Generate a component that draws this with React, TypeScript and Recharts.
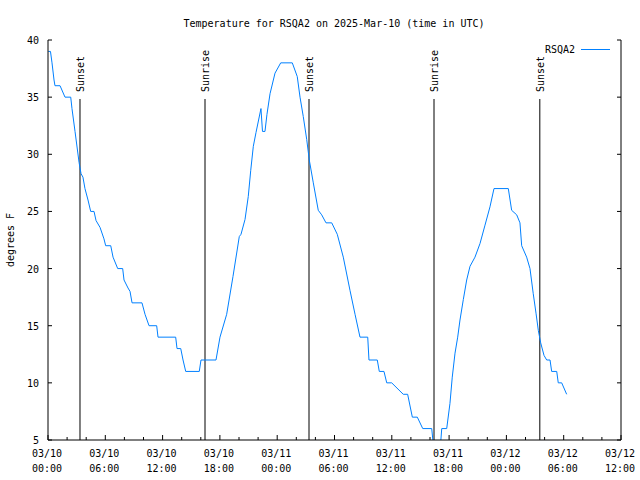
import React from 'react';
import { LineChart, Line, XAxis, YAxis, ReferenceLine } from 'recharts';

// time in hours since 03/10 00:00 UTC
const hours = [
  0.03, 0.26, 0.42, 0.63, 0.73, 1.26, 1.78, 2.38, 2.51, 2.83, 3.25, 3.46, 3.66, 3.87, 4.19, 4.47,
  4.82, 5.03, 5.45, 5.86, 6.04, 6.57, 6.81, 7.3, 7.82, 7.96, 8.38, 8.59, 8.8, 9.84, 10.16, 10.58,
  11.38, 11.52, 13.37, 13.51, 13.9, 14.14, 14.42, 15.84, 16.02, 17.59, 18.01, 18.71, 19.37, 20.03,
  20.21, 20.63, 20.97, 21.23, 21.5, 21.78, 22.3, 22.46, 22.72, 22.93, 23.25, 23.77, 24.37, 25.58,
  26.1, 26.39, 26.73, 27.09, 27.36, 27.78, 28.3, 28.66, 29.11, 29.71, 30.29, 30.92, 31.62, 32.15,
  32.67, 33.48, 33.61, 34.48, 34.69, 35.18, 35.47, 35.99, 37.2, 37.66, 38.15, 38.67, 39.24, 40.18,
  40.42, 41.05, 41.23, 41.75, 42.09, 42.33, 42.62, 42.9, 43.14, 43.49, 43.84, 44.19, 44.71, 45.24,
  45.76, 46.28, 46.7, 48.2, 48.55, 49.08, 49.42, 49.6, 50.12, 50.47, 50.81, 51.1, 51.34, 51.59,
  51.94, 52.22, 52.57, 52.74, 53.27, 53.43, 53.79, 54.31,
];

const tempF = [
  39, 39, 38, 36.5, 36, 36, 35, 35, 34, 32, 29.3, 28.3, 28, 27, 26, 25,
  25, 24.2, 23.6, 22.6, 22, 22, 21, 20, 20, 19, 18.3, 18, 17, 17, 16, 15,
  15, 14, 14, 13, 13, 12, 11, 11, 12, 12, 14, 16, 19.3, 22.8,
  23, 24.3, 26.3, 28.6, 30.7, 31.9, 34, 32, 32, 33.5, 35.3, 37.1, 38, 38,
  36.8, 35, 33.3, 31.3, 29.5, 27.5, 25.1, 24.7, 24, 24, 23, 21, 18.1, 16,
  14, 14, 12, 12, 11, 11, 10, 10, 9, 9, 7, 7, 6, 6,
  4, 4, 6, 6, 8.2, 10.5, 12.6, 14, 15.5, 17.3, 19, 20.2, 21, 22.2,
  23.8, 25.4, 27, 27, 25.1, 24.7, 24, 22, 21, 20, 17.8, 16.1, 14.6, 13.5,
  12.4, 12, 12, 11, 11, 10, 10, 9,
];

const sunTimes = [3.35, 16.44, 27.33, 40.42, 51.5];
const sunLabels = ['Sunset', 'Sunrise', 'Sunset', 'Sunrise', 'Sunset'];

const xTicks = [0, 2, 4, 6, 8, 10, 12, 14, 16, 18, 20, 22, 24, 26, 28, 30, 32, 34, 36, 38, 40, 42, 44, 46, 48, 50, 52, 54, 56, 58, 60];
const xMajorDates = ['03/10', '03/10', '03/10', '03/10', '03/11', '03/11', '03/11', '03/11', '03/12', '03/12', '03/12'];
const xMajorTimes = ['00:00', '06:00', '12:00', '18:00', '00:00', '06:00', '12:00', '18:00', '00:00', '06:00', '12:00'];
const yTicks = [5, 10, 15, 20, 25, 30, 35, 40];

const seriesName = 'RSQA2';
const titleText = 'Temperature for RSQA2 on 2025-Mar-10 (time in UTC)';
const yLabel = 'degrees F';

const data = hours.map((h, i) => ({ h, t: tempF[i] }));

const FONT = '"DejaVu Sans Mono", "Liberation Mono", monospace';
const LINE_COLOR = '#0080ff';

const BottomTick = (props: any) => {
  const { x, y, payload } = props;
  const v = payload.value as number;
  const major = v % 6 === 0;
  const idx = v / 6;
  return (
    <g>
      <line x1={x} x2={x} y1={y} y2={y - (major ? 5 : 3)} stroke="#000" />
      {major && (
        <text x={x - 1} y={y + 17} textAnchor="middle" fontFamily={FONT} fontSize={10} fill="#000">
          {xMajorDates[idx]}
        </text>
      )}
      {major && (
        <text x={x - 1} y={y + 32} textAnchor="middle" fontFamily={FONT} fontSize={10} fill="#000">
          {xMajorTimes[idx]}
        </text>
      )}
    </g>
  );
};

const TopTick = (props: any) => {
  const { x, y, payload } = props;
  const v = payload.value as number;
  const major = v % 6 === 0;
  return <line x1={x} x2={x} y1={y} y2={y + (major ? 5 : 3)} stroke="#000" />;
};

const LeftTick = (props: any) => {
  const { x, y, payload } = props;
  return (
    <g>
      <line x1={x} x2={x + 4} y1={y} y2={y} stroke="#000" />
      <text x={x - 9} y={y} dy={4} textAnchor="end" fontFamily={FONT} fontSize={10} fill="#000">
        {payload.value}
      </text>
    </g>
  );
};

const RightTick = (props: any) => {
  const { x, y } = props;
  return <line x1={x} x2={x - 4} y1={y} y2={y} stroke="#000" />;
};

const makeSunShape = (label: string) => (p: any) => {
  const x = p.x1;
  const top = Math.min(p.y1, p.y2);
  const bottom = Math.max(p.y1, p.y2);
  const tx = x + 4;
  const ty = top + 52;
  return (
    <g>
      <line x1={x} x2={x} y1={top + 59} y2={bottom} stroke="#000" strokeWidth={1} />
      <text
        x={tx}
        y={ty}
        transform={`rotate(-90 ${tx} ${ty})`}
        textAnchor="start"
        fontFamily={FONT}
        fontSize={10}
        fill="#000"
      >
        {label}
      </text>
    </g>
  );
};

export default function App() {
  return (
    <div style={{ position: 'absolute', left: 0, top: 0, width: 640, height: 480, background: '#fff' }}>
      <LineChart width={640} height={480} data={data} margin={{ top: 40, right: 0, bottom: 0, left: 0 }}>
        <XAxis
          dataKey="h"
          type="number"
          domain={[0, 60]}
          allowDataOverflow
          ticks={xTicks}
          interval={0}
          height={40}
          tickSize={0}
          tickMargin={0}
          axisLine={{ stroke: '#000' }}
          tickLine={false}
          tick={(p: any) => <BottomTick {...p} />}
        />
        <XAxis
          xAxisId="top"
          orientation="top"
          dataKey="h"
          type="number"
          domain={[0, 60]}
          allowDataOverflow
          ticks={xTicks}
          interval={0}
          height={0}
          tickSize={0}
          tickMargin={0}
          axisLine={{ stroke: '#000' }}
          tickLine={false}
          tick={(p: any) => <TopTick {...p} />}
        />
        <YAxis
          type="number"
          domain={[5, 40]}
          allowDataOverflow
          ticks={yTicks}
          interval={0}
          width={48}
          tickSize={0}
          tickMargin={0}
          axisLine={{ stroke: '#000' }}
          tickLine={false}
          tick={(p: any) => <LeftTick {...p} />}
        />
        <YAxis
          yAxisId="right"
          orientation="right"
          type="number"
          domain={[5, 40]}
          allowDataOverflow
          ticks={yTicks}
          interval={0}
          width={19}
          tickSize={0}
          tickMargin={0}
          axisLine={{ stroke: '#000' }}
          tickLine={false}
          tick={(p: any) => <RightTick {...p} />}
        />
        {sunTimes.map((t, i) => (
          <ReferenceLine key={i} x={t} stroke="#000" shape={makeSunShape(sunLabels[i])} />
        ))}
        <Line
          type="linear"
          dataKey="t"
          stroke={LINE_COLOR}
          strokeWidth={1}
          dot={false}
          activeDot={false}
          isAnimationActive={false}
        />
      </LineChart>
      <svg
        width={640}
        height={480}
        style={{ position: 'absolute', left: 0, top: 0, pointerEvents: 'none' }}
      >
        <text x={334} y={27} textAnchor="middle" fontFamily={FONT} fontSize={10} fill="#000">
          {titleText}
        </text>
        <text
          x={14}
          y={240}
          transform="rotate(-90 14 240)"
          textAnchor="middle"
          fontFamily={FONT}
          fontSize={10}
          fill="#000"
        >
          {yLabel}
        </text>
        <text x={575} y={53} textAnchor="end" fontFamily={FONT} fontSize={10} fill="#000">
          {seriesName}
        </text>
        <line x1={581} x2={610} y1={49.5} y2={49.5} stroke={LINE_COLOR} strokeWidth={1} />
      </svg>
    </div>
  );
}
